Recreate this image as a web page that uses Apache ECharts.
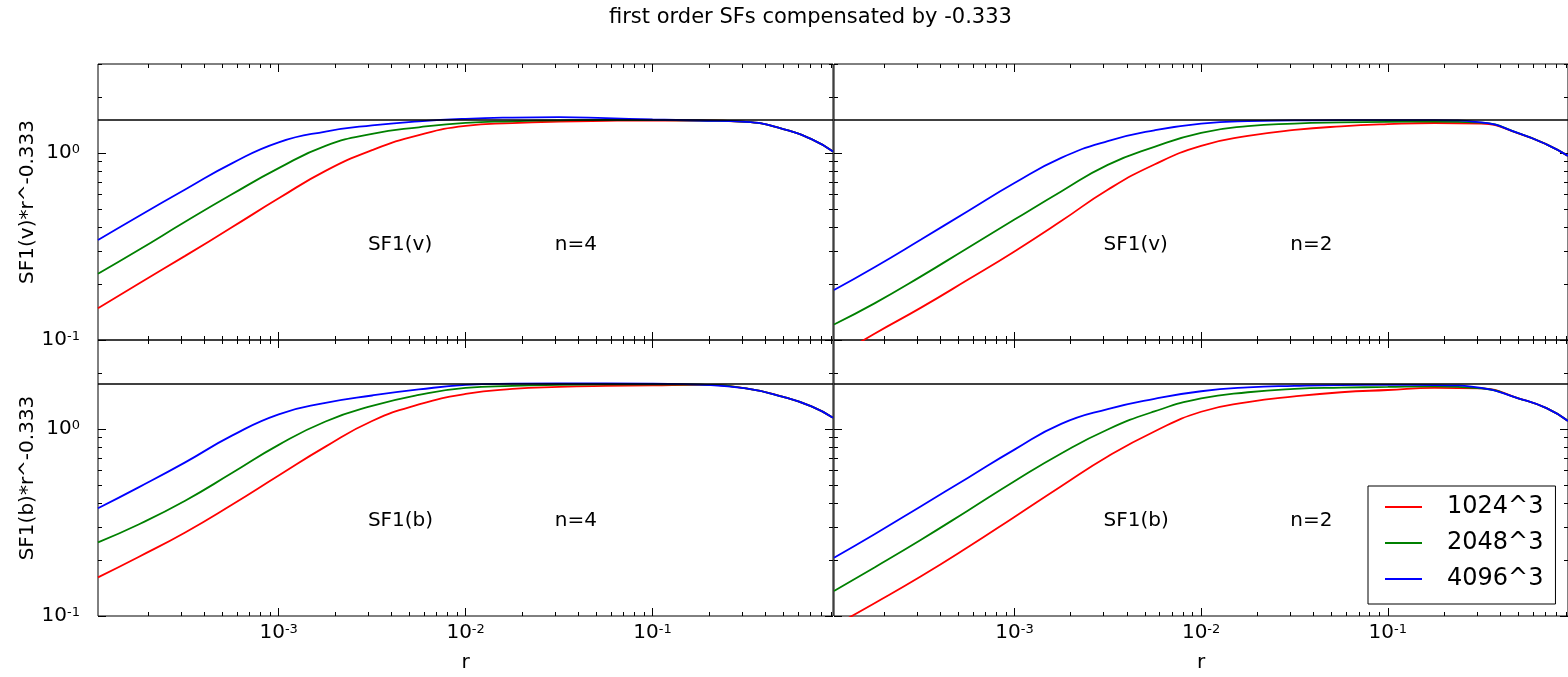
<!DOCTYPE html>
<html><head><meta charset="utf-8">
<script src="https://cdn.jsdelivr.net/npm/echarts@6/dist/echarts.min.js"></script>
<style>html,body{margin:0;padding:0;background:#fff}#c{width:1568px;height:677px}</style>
</head><body><div id="c"></div>
<script>
// ---------- data ----------
const rValues = [1.08e-4, 1.78e-4, 3.16e-4, 5.62e-4, 1e-3, 1.78e-3, 3.16e-3, 5.62e-3, 1e-2, 1.78e-2, 3.16e-2, 5.62e-2, 0.1, 0.178, 0.316, 0.5, 0.708, 0.923];

// SF1(v), n=4
const v4_1024 = [0.148, 0.200, 0.282, 0.401, 0.573, 0.804, 1.038, 1.250, 1.400, 1.448, 1.476, 1.489, 1.495, 1.495, 1.471, 1.344, 1.188, 1.020];
const v4_2048 = [0.226, 0.303, 0.429, 0.602, 0.831, 1.094, 1.269, 1.375, 1.453, 1.480, 1.499, 1.508, 1.505, 1.495, 1.471, 1.344, 1.188, 1.020];
const v4_4096 = [0.343, 0.460, 0.639, 0.882, 1.143, 1.305, 1.409, 1.480, 1.527, 1.551, 1.559, 1.540, 1.514, 1.495, 1.471, 1.344, 1.188, 1.020];
// SF1(v), n=2
const v2_1024 = [0.080, 0.108, 0.149, 0.210, 0.298, 0.433, 0.637, 0.870, 1.094, 1.236, 1.331, 1.392, 1.430, 1.450, 1.439, 1.277, 1.115, 0.967];
const v2_2048 = [0.121, 0.157, 0.219, 0.311, 0.441, 0.624, 0.866, 1.081, 1.284, 1.395, 1.439, 1.460, 1.471, 1.476, 1.458, 1.280, 1.115, 0.967];
const v2_4096 = [0.185, 0.245, 0.345, 0.489, 0.692, 0.943, 1.160, 1.325, 1.439, 1.485, 1.496, 1.502, 1.502, 1.502, 1.462, 1.280, 1.115, 0.967];
// SF1(b), n=4
const b4_1024 = [0.161, 0.207, 0.280, 0.394, 0.565, 0.806, 1.106, 1.356, 1.543, 1.641, 1.682, 1.703, 1.713, 1.724, 1.651, 1.487, 1.323, 1.152];
const b4_2048 = [0.248, 0.309, 0.414, 0.582, 0.824, 1.099, 1.331, 1.524, 1.661, 1.703, 1.724, 1.735, 1.739, 1.730, 1.651, 1.487, 1.323, 1.152];
const b4_4096 = [0.377, 0.488, 0.664, 0.923, 1.201, 1.382, 1.514, 1.631, 1.724, 1.752, 1.760, 1.760, 1.752, 1.730, 1.651, 1.487, 1.323, 1.152];
// SF1(b), n=2
const b2_1024 = [0.0885, 0.117, 0.163, 0.233, 0.339, 0.495, 0.714, 0.972, 1.239, 1.396, 1.498, 1.576, 1.620, 1.661, 1.651, 1.463, 1.295, 1.106];
const b2_2048 = [0.136, 0.182, 0.256, 0.366, 0.526, 0.741, 0.996, 1.244, 1.460, 1.576, 1.641, 1.667, 1.682, 1.692, 1.655, 1.463, 1.295, 1.106];
const b2_4096 = [0.205, 0.274, 0.387, 0.548, 0.777, 1.067, 1.281, 1.454, 1.595, 1.673, 1.705, 1.722, 1.724, 1.722, 1.663, 1.463, 1.295, 1.106];

const seriesNames = ['1024^3', '2048^3', '4096^3'];
const panelData = [[v4_1024, v4_2048, v4_4096], [v2_1024, v2_2048, v2_4096], [b4_1024, b4_2048, b4_4096], [b2_1024, b2_2048, b2_4096]];
const panelTexts = [['SF1(v)', 'n=4'], ['SF1(v)', 'n=2'], ['SF1(b)', 'n=4'], ['SF1(b)', 'n=2']];
const textAnchorX = [0.003, 0.03];
const textAnchorY = 0.3;
const refLevels = [1.5, 1.5, 1.76, 1.76];
const yNames = ['SF1(v)*r^-0.333', 'SF1(b)*r^-0.333'];
const xName = 'r';
const titleText = 'first order SFs compensated by -0.333';

const xMin = 1.08e-4, xMax = 0.923, yMin = 0.1, yMax = 3;
const xMajorTicks = [1e-3, 1e-2, 1e-1];
const xMinorTicks = [2e-4, 3e-4, 4e-4, 5e-4, 6e-4, 7e-4, 8e-4, 9e-4, 2e-3, 3e-3, 4e-3, 5e-3, 6e-3, 7e-3, 8e-3, 9e-3, 0.02, 0.03, 0.04, 0.05, 0.06, 0.07, 0.08, 0.09, 0.2, 0.3, 0.4, 0.5, 0.6, 0.7, 0.8, 0.9];
const yMajorTicks = [0.1, 1];
const yMinorTicks = [0.2, 0.3, 0.4, 0.5, 0.6, 0.7, 0.8, 0.9, 2, 3];

// ---------- style ----------
const FONT = 'DejaVu Sans';
const colors = ['#ff0000', '#008000', '#0000ff'];
const grids = [
  {left: 98, top: 64, width: 735, height: 276},
  {left: 834, top: 64, width: 737, height: 276},
  {left: 98, top: 340, width: 735, height: 276},
  {left: 834, top: 340, width: 737, height: 276}
];
const rich = {
  b: {fontSize: 20, lineHeight: 20, verticalAlign: 'bottom', fontFamily: FONT, color: '#000'},
  s: {fontSize: 13, lineHeight: 13, verticalAlign: 'top', padding: [0, 0, 9, 0], fontFamily: FONT, color: '#000'}
};
function expLabel(v) {
  const e = Math.round(Math.log10(v));
  return '{b|10}{s|' + e + '}';
}

const xAxes = [], yAxes = [], series = [];
function axisX(g, pos, ticks, len, labels) {
  return {
    type: 'log', logBase: 10, gridIndex: g, position: pos, min: xMin, max: xMax,
    axisLine: {show: false}, splitLine: {show: false}, minorTick: {show: false},
    axisTick: {show: true, inside: true, length: len, customValues: ticks, lineStyle: {color: '#000', width: 1}},
    axisLabel: {show: labels, customValues: xMajorTicks, formatter: expLabel, rich: rich, margin: 7},
    name: labels ? xName : '', nameLocation: 'middle', nameGap: 37,
    nameTextStyle: {fontSize: 20, fontFamily: FONT, color: '#000'}
  };
}
function axisY(g, pos, ticks, len, labels, name) {
  return {
    type: 'log', logBase: 10, gridIndex: g, position: pos, min: yMin, max: yMax,
    axisLine: {show: false}, splitLine: {show: false}, minorTick: {show: false},
    axisTick: {show: true, inside: true, length: len, customValues: ticks, lineStyle: {color: '#000', width: 1}},
    axisLabel: {show: labels, customValues: yMajorTicks, formatter: expLabel, rich: rich, margin: 18},
    name: labels ? name : '', nameLocation: 'middle', nameGap: 60,
    nameTextStyle: {fontSize: 20, fontFamily: FONT, color: '#000'}
  };
}

for (let g = 0; g < 4; g++) {
  const bottomRow = g >= 2, leftCol = (g % 2) === 0;
  xAxes.push(axisX(g, 'bottom', xMajorTicks, 8, bottomRow));
  xAxes.push(axisX(g, 'bottom', xMinorTicks, 4, false));
  xAxes.push(axisX(g, 'top', xMajorTicks, 8, false));
  xAxes.push(axisX(g, 'top', xMinorTicks, 4, false));
  yAxes.push(axisY(g, 'left', yMajorTicks, 8, leftCol, yNames[bottomRow ? 1 : 0]));
  yAxes.push(axisY(g, 'left', yMinorTicks, 4, false, ''));
  yAxes.push(axisY(g, 'right', yMajorTicks, 8, false, ''));
  yAxes.push(axisY(g, 'right', yMinorTicks, 4, false, ''));
  for (let k = 0; k < 3; k++) {
    const arr = panelData[g][k];
    const s = {
      type: 'line', name: seriesNames[k], xAxisIndex: 4 * g, yAxisIndex: 4 * g,
      data: rValues.map((r, i) => [r, arr[i]]),
      symbol: 'none', showSymbol: false, smooth: 0.5, clip: true, silent: true,
      lineStyle: {color: colors[k], width: 1.8}, itemStyle: {color: colors[k]},
      emphasis: {disabled: true}, z: 3
    };
    if (k === 0) {
      s.markLine = {
        silent: true, symbol: ['none', 'none'], animation: false,
        label: {show: false}, emphasis: {disabled: true},
        lineStyle: {color: '#000', width: 1.5, type: 'solid'},
        data: [{yAxis: refLevels[g]}]
      };
      s.markPoint = {
        silent: true, symbol: 'circle', symbolSize: 0, animation: false,
        emphasis: {disabled: true},
        label: {show: true, position: [0, 0], align: 'left', verticalAlign: 'bottom', offset: [0, 4],
                fontSize: 20, fontFamily: FONT, color: '#000'},
        data: [
          {coord: [textAnchorX[0], textAnchorY], label: {formatter: panelTexts[g][0]}},
          {coord: [textAnchorX[1], textAnchorY], label: {formatter: panelTexts[g][1]}}
        ]
      };
    }
    series.push(s);
  }
}

const chart = echarts.init(document.getElementById('c'), null, {renderer: 'canvas'});
chart.setOption({
  animation: false,
  backgroundColor: '#fff',
  textStyle: {fontFamily: FONT},
  title: {text: titleText, left: 609, top: 7, padding: 0,
          textStyle: {fontSize: 21, fontWeight: 'normal', fontFamily: FONT, color: '#000'}},
  grid: grids.map(g => Object.assign({show: true, borderColor: '#000', borderWidth: 1, backgroundColor: 'transparent', containLabel: false}, g)),
  legend: {
    data: seriesNames, orient: 'vertical', left: 1368, top: 486,
    padding: [9, 12, 13, 17], itemGap: 12, itemWidth: 37, itemHeight: 2,
    icon: 'rect', selectedMode: false,
    borderColor: '#000', borderWidth: 1, borderRadius: 0, backgroundColor: '#fff',
    textStyle: {fontSize: 24, lineHeight: 24, fontFamily: FONT, color: '#000', padding: [0, 0, 0, 20]}
  },
  xAxis: xAxes,
  yAxis: yAxes,
  series: series
});
</script>
</body></html>
